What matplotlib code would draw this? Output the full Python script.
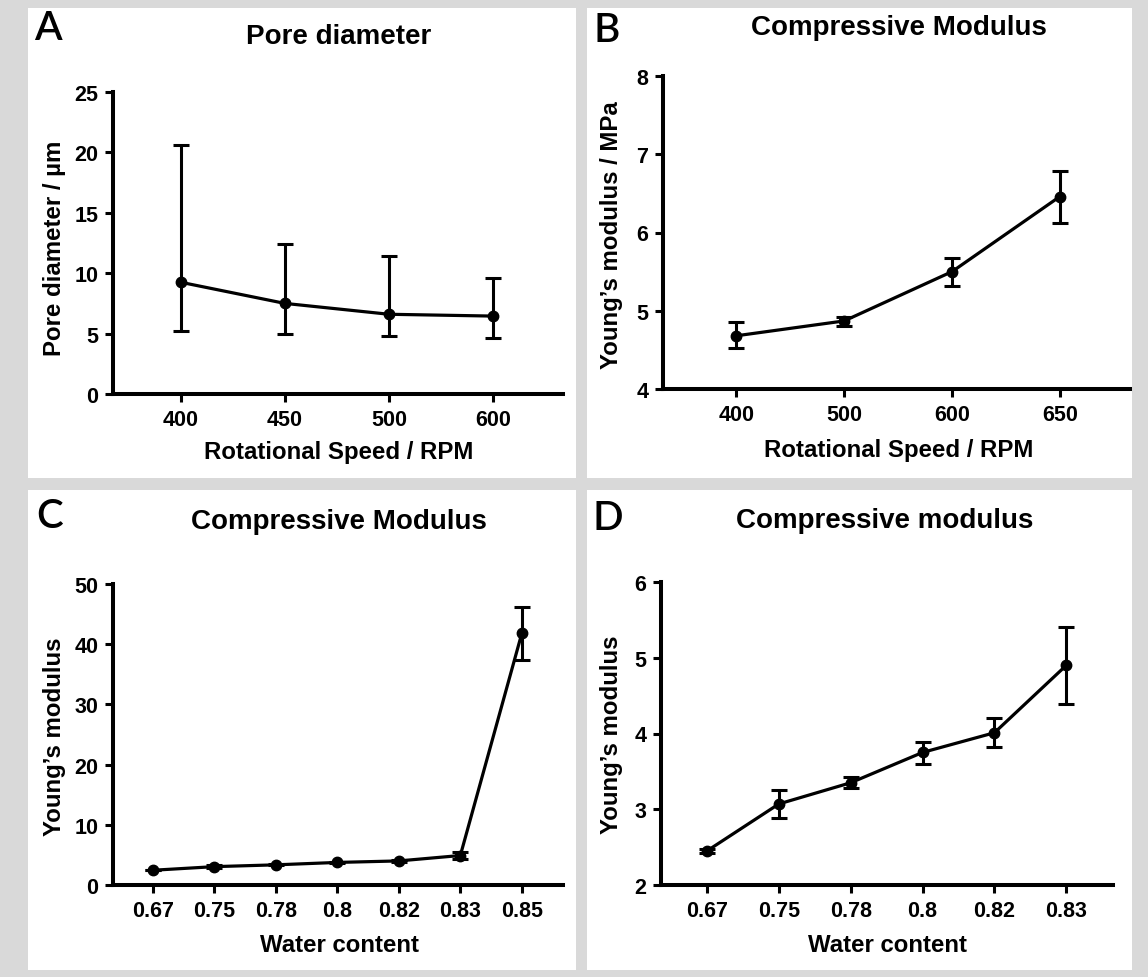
import matplotlib
matplotlib.use('Agg')
import matplotlib.pyplot as plt
import numpy as np
from matplotlib.patches import Rectangle

plt.rcParams['font.family'] = ['Liberation Sans', 'DejaVu Sans']
plt.rcParams['font.weight'] = 'bold'

# ---- data ----
a_labels = ['400', '450', '500', '600']
a_mean = [9.25, 7.5, 6.6, 6.45]
a_low = [5.2, 4.95, 4.8, 4.6]
a_high = [20.6, 12.4, 11.4, 9.6]

b_labels = ['400', '500', '600', '650']
b_mean = [4.68, 4.87, 5.50, 6.46]
b_low = [4.52, 4.81, 5.32, 6.12]
b_high = [4.85, 4.92, 5.68, 6.79]

c_labels = ['0.67', '0.75', '0.78', '0.8', '0.82', '0.83', '0.85']
c_mean = [2.45, 3.05, 3.35, 3.75, 4.0, 4.9, 41.8]
c_low = [2.42, 2.89, 3.28, 3.6, 3.82, 4.39, 37.4]
c_high = [2.48, 3.25, 3.42, 3.89, 4.2, 5.41, 46.2]

d_labels = ['0.67', '0.75', '0.78', '0.8', '0.82', '0.83']
d_mean = [2.45, 3.07, 3.35, 3.75, 4.01, 4.90]
d_low = [2.42, 2.89, 3.28, 3.60, 3.82, 4.39]
d_high = [2.48, 3.25, 3.42, 3.89, 4.20, 5.41]

W, H = 1148, 978
fig = plt.figure(figsize=(W / 100, H / 100), dpi=100, facecolor='#d9d9d9')


def fx(x):
    return x / W


def fy(y):
    return 1 - y / H


# white panel backgrounds
for l, t, r, b in [(28, 9, 576, 479), (587, 9, 1132, 479),
                   (28, 491, 576, 971), (587, 491, 1132, 971)]:
    fig.patches.append(Rectangle((fx(l), fy(b)), (r - l) / W, (b - t) / H,
                                 transform=fig.transFigure, facecolor='white',
                                 edgecolor='none', zorder=-10))


def panel(rect, labels, mean, low, high, ylim, yticks, xlim):
    l, t, r, b = rect
    ax = fig.add_axes([fx(l), fy(b), (r - l) / W, (b - t) / H], zorder=5)
    ax.patch.set_alpha(0)
    x = np.arange(len(labels))
    mean = np.array(mean)
    yerr = [mean - np.array(low), np.array(high) - mean]
    ax.errorbar(x, mean, yerr=yerr, fmt='-o', color='black', lw=2.3,
                ms=7.5, elinewidth=2.2, capsize=5.5, capthick=2.2, clip_on=False)
    ax.set_xlim(*xlim)
    ax.set_ylim(*ylim)
    ax.set_xticks(x)
    ax.set_xticklabels(labels)
    ax.set_yticks(yticks)
    for s in ['top', 'right']:
        ax.spines[s].set_visible(False)
    for s in ['left', 'bottom']:
        ax.spines[s].set_linewidth(2.9)
        ax.spines[s].set_capstyle('projecting')
    ax.tick_params(direction='out', length=6, width=2.2, labelsize=15.5, pad=4.5)
    for lab in ax.get_xticklabels() + ax.get_yticklabels():
        lab.set_fontweight('bold')
    return ax


panel((113, 93, 563, 395), a_labels, a_mean, a_low, a_high,
      (0, 25), [0, 5, 10, 15, 20, 25], (-0.65, 3.67))
panel((663, 77, 1130, 390), b_labels, b_mean, b_low, b_high,
      (4, 8), [4, 5, 6, 7, 8], (-0.68, 3.65))
panel((113, 585, 563, 886), c_labels, c_mean, c_low, c_high,
      (0, 50), [0, 10, 20, 30, 40, 50], (-0.65, 6.67))
panel((661, 583, 1113, 886), d_labels, d_mean, d_low, d_high,
      (2, 6), [2, 3, 4, 5, 6], (-0.64, 5.65))

# titles
kw = dict(ha='center', va='center', fontweight='bold')
fig.text(fx(339), fy(37), 'Pore diameter', fontsize=20, **kw)
fig.text(fx(899), fy(28), 'Compressive Modulus', fontsize=20, **kw)
fig.text(fx(339), fy(522), 'Compressive Modulus', fontsize=20, **kw)
fig.text(fx(885), fy(521), 'Compressive modulus', fontsize=20, **kw)

# x labels
fig.text(fx(339), fy(452), 'Rotational Speed / RPM', fontsize=17.3, **kw)
fig.text(fx(899), fy(450), 'Rotational Speed / RPM', fontsize=17.3, **kw)
fig.text(fx(339), fy(946), 'Water content', fontsize=17.3, **kw)
fig.text(fx(887), fy(946), 'Water content', fontsize=17.3, **kw)

# y labels
fig.text(fx(55), fy(248), 'Pore diameter / µm', fontsize=17.3, rotation=90, **kw)
fig.text(fx(612), fy(235), 'Young’s modulus / MPa', fontsize=17.3, rotation=90, **kw)
fig.text(fx(55), fy(737), 'Young’s modulus', fontsize=17.3, rotation=90, **kw)
fig.text(fx(612), fy(735), 'Young’s modulus', fontsize=17.3, rotation=90, **kw)

# panel letters
lk = dict(ha='center', va='center', fontsize=29, family=['Lato', 'DejaVu Sans'],
          fontweight='semibold')
fig.text(fx(48), fy(29), 'A', **lk)
fig.text(fx(607), fy(31), 'B', **lk)
fig.text(fx(50), fy(517), 'C', **lk)
fig.text(fx(608), fy(518), 'D', **lk)

fig.savefig('out.png', dpi=100, facecolor=fig.get_facecolor())
